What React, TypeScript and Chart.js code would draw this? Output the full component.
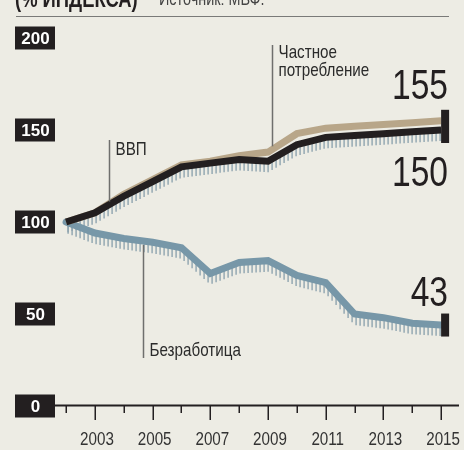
import React, { useEffect, useRef } from "react";
import { Chart, registerables } from "chart.js";

Chart.register(...registerables);

const years = [2002, 2003, 2004, 2005, 2006, 2007, 2008, 2009, 2010, 2011, 2012, 2013, 2014, 2015];
const gdp = [100, 105, 114, 122, 130, 132, 134, 133, 142, 146, 147, 148, 149, 150];
const consumption = [100, 105, 115, 123, 131, 133, 136, 138, 148, 151, 152, 153, 154, 155];
const unemployment = [100, 94, 91, 89, 86, 72, 78, 79, 71, 67, 50, 48, 45, 44];
const yTicks = [0, 50, 100, 150, 200];
const xMajor = [2003, 2005, 2007, 2009, 2011, 2013, 2015];
const xMinor = [2002, 2004, 2006, 2008, 2010, 2012, 2014];
const endLabels = { consumption: "155", gdp: "150", unemployment: "43" };
const title = "(% ИНДЕКСА)";
const source = "Источник: МВФ.";
const seriesNames = { consumption: ["Частное", "потребление"], gdp: "ВВП", unemployment: "Безработица" };

const BG = "#edece4";
const BLACK = "#231f20";
const TAN = "#b8a689";
const BLUE = "#7797a8";
const HATCH = "#8ea4af";
const SANS = "'Liberation Sans', Arial, sans-serif";
const SX = 0.8;

function narrow(ctx: CanvasRenderingContext2D, text: string, x: number, y: number, font: string, align: CanvasTextAlign, color: string) {
  ctx.save();
  ctx.font = font;
  ctx.fillStyle = color;
  ctx.textAlign = align;
  ctx.textBaseline = "alphabetic";
  ctx.translate(x, y);
  ctx.scale(SX, 1);
  ctx.fillText(text, 0, 0);
  ctx.restore();
}

function hatch(ctx: CanvasRenderingContext2D, pts: { x: number; y: number }[]) {
  ctx.save();
  ctx.strokeStyle = HATCH;
  ctx.lineWidth = 1.4;
  ctx.beginPath();
  const last = pts[pts.length - 1].x;
  let i = 0;
  for (let x = pts[0].x + 2; x <= last - 1; x += 4) {
    while (i < pts.length - 2 && x > pts[i + 1].x) i++;
    const a = pts[i], b = pts[i + 1];
    const t = (x - a.x) / (b.x - a.x);
    const y = a.y + (b.y - a.y) * t;
    ctx.moveTo(x, y + 2);
    ctx.lineTo(x, y + 11);
  }
  ctx.stroke();
  ctx.restore();
}

function valAt(arr: number[], yr: number) {
  const i = Math.min(Math.floor(yr - years[0]), arr.length - 2);
  const t = yr - years[i];
  return arr[i] + (arr[i + 1] - arr[i]) * t;
}

const decor = {
  id: "decor",
  beforeDraw(chart: any) {
    const ctx: CanvasRenderingContext2D = chart.ctx;
    const xs = chart.scales.x, ys = chart.scales.y;
    ctx.save();
    ctx.fillStyle = BG;
    ctx.fillRect(0, 0, chart.width, chart.height);
    // header
    narrow(ctx, title, 15, 7, `bold 23px ${SANS}`, "left", BLACK);
    narrow(ctx, source, 159, 5, `18px ${SANS}`, "left", "#444");
    ctx.strokeStyle = "#7a7a78";
    ctx.lineWidth = 1;
    ctx.beginPath();
    ctx.moveTo(16, 16.5);
    ctx.lineTo(449, 16.5);
    ctx.stroke();
    // y labels
    ctx.font = `bold 17px ${SANS}`;
    ctx.textAlign = "center";
    ctx.textBaseline = "middle";
    for (const v of yTicks) {
      const y = ys.getPixelForValue(v);
      ctx.fillStyle = BLACK;
      ctx.fillRect(15, y - 11.5, 40, 23);
      ctx.fillStyle = "#fff";
      ctx.fillText(String(v), 35.5, y + 1);
    }
    // x axis
    const y0 = ys.getPixelForValue(0);
    ctx.strokeStyle = BLACK;
    ctx.lineWidth = 2;
    ctx.beginPath();
    ctx.moveTo(55, y0 - 0.5);
    ctx.lineTo(459, y0 - 0.5);
    ctx.stroke();
    ctx.lineWidth = 1.5;
    ctx.beginPath();
    for (const yr of xMajor) {
      const x = Math.round(xs.getPixelForValue(yr)) + 0.25;
      ctx.moveTo(x, y0);
      ctx.lineTo(x, y0 + 14);
    }
    for (const yr of xMinor) {
      const x = Math.round(xs.getPixelForValue(yr)) + 0.25;
      ctx.moveTo(x, y0);
      ctx.lineTo(x, y0 + 7);
    }
    ctx.stroke();
    for (const yr of xMajor) {
      narrow(ctx, String(yr), xs.getPixelForValue(yr) + 2, 445, `19px ${SANS}`, "center", "#333");
    }
    ctx.restore();
  },
  beforeDatasetsDraw(chart: any) {
    const ctx = chart.ctx;
    [0, 2].forEach((i) => {
      const pts = chart.getDatasetMeta(i).data.map((p: any) => ({ x: p.x, y: p.y }));
      hatch(ctx, pts);
    });
  },
  afterDatasetsDraw(chart: any) {
    const ctx: CanvasRenderingContext2D = chart.ctx;
    const xs = chart.scales.x, ys = chart.scales.y;
    const n = years.length - 1;
    const xe = xs.getPixelForValue(years[n]);
    const yC = ys.getPixelForValue(consumption[n]);
    const yG = ys.getPixelForValue(gdp[n]);
    const yU = ys.getPixelForValue(unemployment[n]);
    ctx.save();
    ctx.fillStyle = BLACK;
    ctx.fillRect(xe, yC - 11, 8, yG - yC + 24);
    ctx.fillRect(xe, yU - 11.5, 8, 23);
    const big = `42px ${SANS}`;
    narrow(ctx, endLabels.consumption, 448, yC - 22, big, "right", BLACK);
    narrow(ctx, endLabels.gdp, 448, yG + 56, big, "right", BLACK);
    narrow(ctx, endLabels.unemployment, 448, yU - 19, big, "right", BLACK);

    // leaders
    ctx.strokeStyle = "#6f6f6d";
    ctx.lineWidth = 1.5;
    const lead = (yr: number, top: number, bottom: number) => {
      const x = Math.round(xs.getPixelForValue(yr)) + 0.5;
      ctx.beginPath();
      ctx.moveTo(x, top);
      ctx.lineTo(x, bottom);
      ctx.stroke();
      return x;
    };
    const xc = lead(2009.15, 45, ys.getPixelForValue(valAt(consumption, 2009.15)) - 3);
    const xg = lead(2003.5, 140, ys.getPixelForValue(valAt(gdp, 2003.5)) - 3);
    const xu = lead(2004.65, ys.getPixelForValue(valAt(unemployment, 2004.65)) + 4, 358);
    const f = `19px ${SANS}`;
    const c = "#2b2b2b";
    narrow(ctx, seriesNames.consumption[0], xc + 6, 58, f, "left", c);
    narrow(ctx, seriesNames.consumption[1], xc + 6, 76, f, "left", c);
    narrow(ctx, seriesNames.gdp, xg + 6, 155, f, "left", c);
    narrow(ctx, seriesNames.unemployment, xu + 6, 356, f, "left", c);
    ctx.restore();
  },
};

export default function App() {
  const ref = useRef<HTMLCanvasElement | null>(null);
  useEffect(() => {
    if (!ref.current) return;
    const mk = (arr: number[]) => arr.map((v, i) => ({ x: years[i], y: v }));
    const chart = new Chart(ref.current, {
      type: "line",
      data: {
        datasets: [
          { data: mk(gdp), borderColor: BLACK, borderWidth: 7, pointRadius: 0, tension: 0, borderJoinStyle: "miter", borderCapStyle: "butt" },
          { data: mk(consumption), borderColor: TAN, borderWidth: 7, pointRadius: 0, tension: 0, borderJoinStyle: "miter", borderCapStyle: "butt" },
          { data: mk(unemployment), borderColor: BLUE, borderWidth: 7, pointRadius: 0, tension: 0, borderJoinStyle: "miter", borderCapStyle: "round" },
        ],
      } as any,
      options: {
        animation: false,
        responsive: false,
        events: [],
        layout: { padding: { left: 56, right: 5, top: 38, bottom: 44 } },
        plugins: { legend: { display: false }, tooltip: { enabled: false } },
        scales: {
          x: { type: "linear", min: 2001.65, max: 2015.62, display: false },
          y: { min: 0, max: 200, display: false },
        },
      } as any,
      plugins: [decor],
    });
    return () => chart.destroy();
  }, []);
  return (
    <div style={{ position: "absolute", left: 0, top: 0, width: 464, height: 450 }}>
      <canvas ref={ref} width={464} height={450} style={{ display: "block" }} />
    </div>
  );
}
